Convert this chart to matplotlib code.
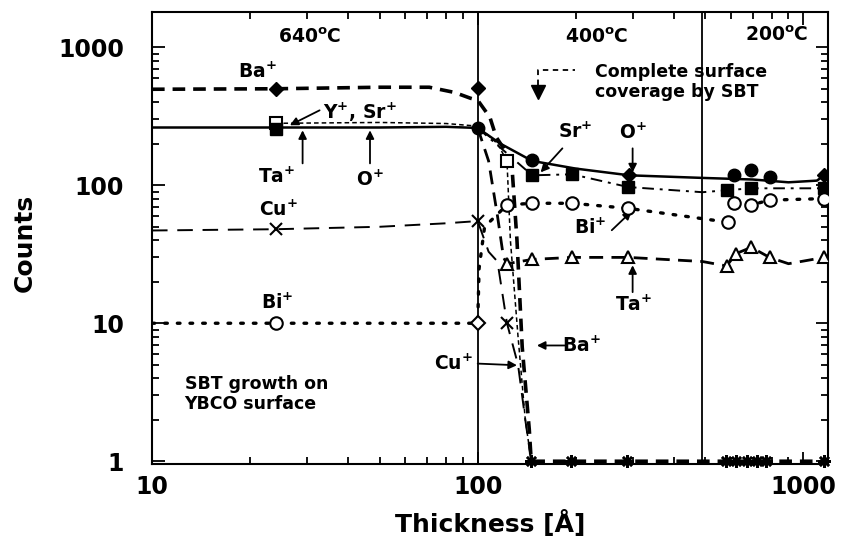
import matplotlib
matplotlib.use('Agg')
import matplotlib.pyplot as plt
from matplotlib.ticker import LogLocator, NullFormatter

plt.rcParams['font.family'] = ['DejaVu Sans']
plt.rcParams['font.weight'] = 'bold'
plt.rcParams['mathtext.default'] = 'bf'

# ---------------- data ----------------
x_ticks = [10, 100, 1000]
x_tick_labels = ['10', '100', '1000']
y_ticks = [1, 10, 100, 1000]
y_tick_labels = ['1', '10', '100', '1000']
temp_bounds = [100, 490]

# Ba+  (filled diamonds, thick dashed)
ba_x = [10, 24, 50, 71, 85, 95, 100, 109, 114, 127, 132, 137, 144, 146, 1160]
ba_y = [496, 500, 513, 513, 470, 427, 413, 311, 223, 152, 40, 6.7, 1.7, 1, 1]
ba_mx = [24, 100]
ba_my = [500, 505]
ba_floor_x = [146, 194, 288, 580, 620, 673, 720, 770, 1160]
ba_floor_y = [1, 1, 1, 1, 1, 1, 1, 1, 1]

# O+  (filled circles, solid)
o_x = [10, 24, 50, 80, 100, 117, 147, 200, 292, 490, 700, 900, 1100, 1160]
o_y = [262, 262, 262, 265, 260, 201, 150, 132, 118, 113, 110, 105, 108, 118]
o_cx = [100, 147, 614, 692, 787]
o_cy = [260, 152, 118, 128, 114]
o_dx = [292, 1160]
o_dy = [118, 118]

# Sr+  (filled squares, dash-dot)
sr_x = [100, 147, 195, 290, 490, 581, 692, 1160]
sr_y = [260, 118, 120, 97, 89, 92, 95, 95]
sr_mx = [147, 195, 290, 581, 692, 1160]
sr_my = [118, 120, 97, 92, 95, 95]

# Y+  (open squares, short dashes)
yy_x = [24, 50, 80, 100, 115, 123, 126, 133, 140, 146]
yy_y = [281, 285, 280, 268, 200, 150, 40, 8, 2, 1]
yy_mx = [24, 123]
yy_my = [281, 150]

# Cu+  (crosses, long dashes)
cu_x = [10, 24, 50, 80, 100, 108, 115, 123, 133, 140, 146]
cu_y = [47, 48, 50, 53, 55, 33, 28, 10, 5, 2, 1]
cu_mx = [24, 100, 123]
cu_my = [48, 55, 10]

# Bi+  (open circles, dotted)
bi1_x = [10, 24, 100, 101, 105, 123, 147, 195, 290, 585]
bi1_y = [10, 10, 10, 25, 50, 72, 74, 74, 68, 54]
bi2_x = [614, 692, 787, 1160]
bi2_y = [74, 72, 78, 80]
bi_mx = [24, 123, 147, 195, 290, 585, 614, 692, 787, 1160]
bi_my = [10, 72, 74, 74, 68, 54, 74, 72, 78, 80]
bi_dx = [100]
bi_dy = [10]

# Ta+  (open triangles, long dashes)
ta_x = [100, 108, 115, 120, 123, 147, 195, 290, 490, 581, 622, 692, 787, 900, 1160]
ta_y = [260, 150, 60, 30, 27, 29, 30, 30, 28, 26, 32, 35.5, 30, 27, 30]
ta_mx = [123, 147, 195, 290, 581, 622, 692, 787, 1160]
ta_my = [27, 29, 30, 30, 26, 32, 35.5, 30, 30]
ta_sx = [24]
ta_sy = [255]

# ---------------- figure ----------------
fig = plt.figure(figsize=(8.45, 5.44), dpi=100)
ax = fig.add_axes([152/845, 1-464/544, (828-152)/845, (464-12)/544])
ax.set_xscale('log')
ax.set_yscale('log')
ax.set_xlim(10, 1190)
ax.set_ylim(0.955, 1800)

for b in temp_bounds:
    ax.axvline(b, color='k', lw=1.3, zorder=1)

# lines
ax.plot(ba_x, ba_y, color='k', lw=2.6, ls=(0, (3.5, 2.2)), zorder=3)
ax.plot(o_x, o_y, color='k', lw=1.8, ls='-', zorder=3)
ax.plot(sr_x, sr_y, color='k', lw=1.4, ls=(0, (6, 3, 1.5, 3)), zorder=3)
ax.plot(yy_x, yy_y, color='k', lw=1.1, ls=(0, (3, 2)), zorder=3)
ax.plot(cu_x, cu_y, color='k', lw=1.4, ls=(0, (8, 5)), zorder=3)
ax.plot(bi1_x, bi1_y, color='k', lw=2.4, ls=(0, (0.8, 3)), dash_capstyle='round', zorder=3)
ax.plot(bi2_x, bi2_y, color='k', lw=2.4, ls=(0, (0.8, 3)), dash_capstyle='round', zorder=3)
ax.plot(ta_x, ta_y, color='k', lw=2.0, ls=(0, (5, 3)), zorder=3)

# markers
ax.plot(ba_mx, ba_my, 'D', color='k', ms=7, ls='none', zorder=5)
ax.plot(ba_floor_x, ba_floor_y, marker=(8, 2, 0), color='k', ms=9, mew=1.8, ls='none',
        zorder=6, clip_on=False)
ax.plot(o_cx, o_cy, 'o', color='k', ms=9, ls='none', zorder=5)
ax.plot(o_dx, o_dy, 'D', color='k', ms=7, ls='none', zorder=5)
ax.plot(sr_mx, sr_my, 's', color='k', ms=9, ls='none', zorder=5)
ax.plot(yy_mx, yy_my, 's', mfc='white', mec='k', mew=1.5, ms=9, ls='none', zorder=5)
ax.plot(cu_mx, cu_my, 'x', color='k', ms=9, mew=1.5, ls='none', zorder=5)
ax.plot(bi_mx, bi_my, 'o', mfc='white', mec='k', mew=1.5, ms=9, ls='none', zorder=5)
ax.plot(bi_dx, bi_dy, 'D', mfc='white', mec='k', mew=1.5, ms=7, ls='none', zorder=5)
ax.plot(ta_mx, ta_my, '^', mfc='white', mec='k', mew=1.5, ms=9, ls='none', zorder=5)
ax.plot(ta_sx, ta_sy, 's', color='k', ms=9, ls='none', zorder=5)

# axes styling
ax.set_xticks(x_ticks)
ax.set_xticklabels(x_tick_labels)
ax.set_yticks(y_ticks)
ax.set_yticklabels(y_tick_labels)
ax.xaxis.set_minor_locator(LogLocator(base=10, subs=range(2, 10)))
ax.yaxis.set_minor_locator(LogLocator(base=10, subs=range(2, 10)))
ax.xaxis.set_minor_formatter(NullFormatter())
ax.yaxis.set_minor_formatter(NullFormatter())
ax.tick_params(which='both', direction='in', top=True, right=True, width=1.3)
ax.tick_params(which='major', length=9)
ax.tick_params(which='minor', length=5)
ax.tick_params(axis='y', which='major', labelsize=17, pad=20)
ax.tick_params(axis='x', which='major', labelsize=17, pad=8)
for s in ax.spines.values():
    s.set_linewidth(1.5)

fig.text(25/845, 1-243/544, 'Counts', rotation=90, ha='center', va='center', fontsize=18, fontweight='bold')
fig.text(490/845, 1-523/544, 'Thickness [Å]', ha='center', va='center', fontsize=18, fontweight='bold')

fs = 13.5
ax.text(30.5, 1182, r'640$^{o}$C', ha='center', va='center', fontsize=fs)
ax.text(232, 1182, r'400$^{o}$C', ha='center', va='center', fontsize=fs)
ax.text(826, 1222, r'200$^{o}$C', ha='center', va='center', fontsize=fs)

ax.text(21, 659, r'Ba$^{+}$', ha='center', va='center', fontsize=fs)
ax.text(24.4, 66, r'Cu$^{+}$', ha='center', va='center', fontsize=fs)
ax.text(24.2, 14, r'Bi$^{+}$', ha='center', va='center', fontsize=fs)
ax.text(12.6, 3.06, 'SBT growth on\nYBCO surface', ha='left', va='center', fontsize=12.5, linespacing=1.15)

arw = dict(arrowstyle='-|>', color='k', lw=1.3, mutation_scale=12, shrinkA=0, shrinkB=0)
ax.text(43.5, 338, r'Y$^{+}$, Sr$^{+}$', ha='center', va='center', fontsize=fs)
ax.annotate('', xy=(26.5, 272), xytext=(32.7, 349), arrowprops=arw)
ax.text(24.2, 114, r'Ta$^{+}$', ha='center', va='center', fontsize=fs)
ax.annotate('', xy=(29, 250), xytext=(29, 144), arrowprops=arw)
ax.text(46.7, 109, r'O$^{+}$', ha='center', va='center', fontsize=fs)
ax.annotate('', xy=(46.7, 250), xytext=(46.7, 144), arrowprops=arw)

ax.text(199, 242, r'Sr$^{+}$', ha='center', va='center', fontsize=fs)
ax.annotate('', xy=(156, 124), xytext=(182, 185), arrowprops=arw)
ax.text(299, 238, r'O$^{+}$', ha='center', va='center', fontsize=fs)
ax.annotate('', xy=(299, 124), xytext=(299, 185), arrowprops=arw)
ax.text(221, 48.8, r'Bi$^{+}$', ha='center', va='center', fontsize=fs)
ax.annotate('', xy=(297, 64.8), xytext=(258, 47.2), arrowprops=arw)
ax.text(302, 13.5, r'Ta$^{+}$', ha='center', va='center', fontsize=fs)
ax.annotate('', xy=(299, 26.3), xytext=(299, 16.8), arrowprops=arw)
ax.text(208, 6.9, r'Ba$^{+}$', ha='center', va='center', fontsize=fs)
ax.annotate('', xy=(152, 6.9), xytext=(185, 6.9), arrowprops=arw)
ax.text(84, 5.1, r'Cu$^{+}$', ha='center', va='center', fontsize=fs)
ax.annotate('', xy=(132, 4.96), xytext=(100, 5.1), arrowprops=arw)

# complete coverage note
ax.plot([153, 153, 199], [531, 681, 681], color='k', lw=1.3, ls=(0, (3, 2.5)))
ax.plot([153], [470], 'v', color='k', ms=10, ls='none')
ax.text(229, 560, 'Complete surface\ncoverage by SBT', ha='left', va='center', fontsize=12.5, linespacing=1.2)

fig.savefig('out.png', dpi=100)
